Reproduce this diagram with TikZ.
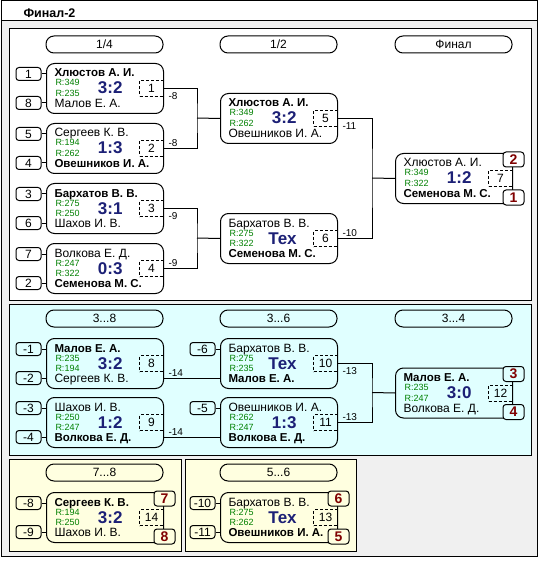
\documentclass[tikz,border=0pt]{standalone}
\usepackage{fontspec}
\setmainfont{Liberation Sans}
\usetikzlibrary{calc}
\definecolor{navyx}{RGB}{28,32,118}
\definecolor{rgreen}{RGB}{0,128,0}
\definecolor{dred}{RGB}{128,0,0}
\definecolor{pcyan}{RGB}{224,255,255}
\definecolor{pyel}{RGB}{255,255,224}
\definecolor{bggray}{RGB}{240,240,240}
\newcommand\bnm{\fontsize{11.5}{12}\selectfont\bfseries}
\tikzset{
 mbox/.style={draw, rounded corners=8pt, minimum width=117pt, minimum height=50pt, inner sep=0pt},
 nm/.style={inner sep=0pt, anchor=base west, font=\fontsize{12}{12}\selectfont},
 rt/.style={inner sep=0pt, anchor=base west, text=rgreen, font=\fontsize{9}{9}\selectfont},
 sc/.style={inner sep=0pt, anchor=base east, text=navyx, font=\fontsize{17}{17}\selectfont\bfseries},
 dbox/.style={draw, dash pattern=on 3pt off 2pt, minimum width=24pt, minimum height=16pt, inner sep=0pt, font=\fontsize{12}{12}\selectfont},
 seedbox/.style={draw, rounded corners=3pt, minimum width=25pt, minimum height=13pt, inner sep=0pt, font=\fontsize{12}{12}\selectfont},
 placebox/.style={draw, rounded corners=3pt, minimum width=21pt, minimum height=15pt, inner sep=0pt, text=dred, font=\fontsize{14}{14}\selectfont\bfseries},
 pill/.style={draw, rounded corners=8pt, minimum width=117pt, minimum height=17pt, inner sep=0pt, font=\fontsize{12}{12}\selectfont},
 lbl/.style={inner sep=0pt, anchor=west, font=\fontsize{10}{10}\selectfont},
 panel/.style={draw=black},
}
% match box: name, position, top name, R1, R2, score, bottom name, number
\newcommand\mtch[8]{%
  \node[mbox, anchor=north west] (#1) at (#2) {};
  \node[nm] (#1a) at ($(#1.north west)+(8,14)$) {#3};
  \node[rt] (#1r) at ($(#1.north west)+(9,23)$) {R:#4};
  \node[rt] (#1s) at ($(#1.north west)+(9,33.5)$) {R:#5};
  \node[sc] (#1c) at ($(#1.north west)+(77,31)$) {#6};
  \node[nm] (#1b) at ($(#1.north west)+(8,44.5)$) {#7};
  \node[dbox, anchor=east] (#1n) at (#1.east) {#8};
}
\newcommand\seedup[3]{\node[seedbox] (#1) at ($(#2.west)+(-17.5,-14.5)$) {#3};
  \draw (#1.east) -- (#1.east -| #2.west);}
\newcommand\seeddn[3]{\node[seedbox] (#1) at ($(#2.west)+(-17.5,14.5)$) {#3};
  \draw (#1.east) -- (#1.east -| #2.west);}
\newcommand\placeup[4]{\node[placebox, fill=#4] (#1) at ($(#2.north east)+(0.5,6.5)$) {#3};}
\newcommand\placedn[4]{\node[placebox, fill=#4] (#1) at ($(#2.south east)+(0.5,-6.5)$) {#3};}
\begin{document}
\begin{tikzpicture}[x=1pt, y=-1pt, line width=1pt]
\useasboundingbox (0,0) rectangle (543,561);
% frame
\draw[fill=bggray] (1,1) rectangle (537,556);
\draw[fill=white] (1,1) rectangle (537,21);
\node[anchor=base west, inner sep=0pt, font=\fontsize{12.5}{13}\selectfont\bfseries] (title) at (23,18) {Финал-2};
% panels
\draw[panel, fill=white] (9,29) rectangle (531,300);
\draw[panel, fill=pcyan] (9,304) rectangle (531,455);
\draw[panel, fill=pyel] (9,459) rectangle (181,551);
\draw[panel, fill=pyel] (185,459) rectangle (356,551);

% ===== panel 1 =====
\node[pill] (h1) at (104.5,44.5) {1/4};
\node[pill] (h2) at (278.5,44.5) {1/2};
\node[pill] (h3) at (453.5,44.5) {Финал};

\mtch{m1}{46,63}{\bnm Хлюстов А. И.}{349}{235}{3:2}{Малов Е. А.}{1}
\mtch{m2}{46,123}{Сергеев К. В.}{194}{262}{1:3}{\bnm Овешников И. А.}{2}
\mtch{m3}{46,183}{\bnm Бархатов В. В.}{275}{250}{3:1}{Шахов И. В.}{3}
\mtch{m4}{46,243}{Волкова Е. Д.}{247}{322}{0:3}{\bnm Семенова М. С.}{4}
\mtch{m5}{220,93}{\bnm Хлюстов А. И.}{349}{262}{3:2}{Овешников И. А.}{5}
\mtch{m6}{220,213}{Бархатов В. В.}{275}{322}{Тех}{\bnm Семенова М. С.}{6}
\mtch{m7}{395,153}{Хлюстов А. И.}{349}{322}{1:2}{\bnm Семенова М. С.}{7}

\seedup{s1}{m1}{1}\seeddn{s8}{m1}{8}
\seedup{s5}{m2}{5}\seeddn{s4}{m2}{4}
\seedup{s3}{m3}{3}\seeddn{s6}{m3}{6}
\seedup{s7}{m4}{7}\seeddn{s2}{m4}{2}

\coordinate (j1) at (197,118);
\coordinate (j2) at (197,238);
\coordinate (j3) at (372,178);
\draw (m1.east) -| (j1) |- (m2.east);
\draw (j1) -- (m5.west);
\draw (m3.east) -| (j2) |- (m4.east);
\draw (j2) -- (m6.west);
\draw (m5.east) -| (j3) |- (m6.east);
\draw (j3) -- (m7.west);

\node[lbl] (l1) at ($(m1.east)+(4,8)$) {-8};
\node[lbl] (l2) at ($(m2.east)+(4,-5)$) {-8};
\node[lbl] (l3) at ($(m3.east)+(4,8)$) {-9};
\node[lbl] (l4) at ($(m4.east)+(4,-5)$) {-9};
\node[lbl] (l5) at ($(m5.east)+(4,8)$) {-11};
\node[lbl] (l6) at ($(m6.east)+(4,-5)$) {-10};

\placeup{p2}{m7}{2}{white}
\placedn{p1}{m7}{1}{white}

% ===== panel 2 =====
\node[pill] (h4) at (104.5,318.5) {3...8};
\node[pill] (h5) at (278.5,318.5) {3...6};
\node[pill] (h6) at (453.5,318.5) {3...4};

\mtch{m8}{46,338}{\bnm Малов Е. А.}{235}{194}{3:2}{Сергеев К. В.}{8}
\mtch{m9}{46,397}{Шахов И. В.}{250}{247}{1:2}{\bnm Волкова Е. Д.}{9}
\mtch{m10}{220,338}{Бархатов В. В.}{275}{235}{Тех}{\bnm Малов Е. А.}{10}
\mtch{m11}{220,397}{Овешников И. А.}{262}{247}{1:3}{\bnm Волкова Е. Д.}{11}
\mtch{m12}{395,367.5}{\bnm Малов Е. А.}{235}{247}{3:0}{Волкова Е. Д.}{12}

\seedup{sm1}{m8}{-1}\seeddn{sm2}{m8}{-2}
\seedup{sm3}{m9}{-3}\seeddn{sm4}{m9}{-4}
\seedup{sm6}{m10}{-6}
\seedup{sm5}{m11}{-5}

\draw ($(m8.east)+(0,14.5)$) coordinate (o8) -- (o8 -| m10.west);
\draw ($(m9.east)+(0,14.5)$) coordinate (o9) -- (o9 -| m11.west);
\node[lbl] (l8) at ($(o8)+(4,-5)$) {-14};
\node[lbl] (l9) at ($(o9)+(4,-5)$) {-14};

\coordinate (j4) at (372,392.5);
\draw (m10.east) -| (j4) |- (m11.east);
\draw (j4) -- (m12.west);
\node[lbl] (l10) at ($(m10.east)+(4,8)$) {-13};
\node[lbl] (l11) at ($(m11.east)+(4,-5)$) {-13};

\placeup{p3}{m12}{3}{pcyan}
\placedn{p4}{m12}{4}{pcyan}

% ===== panel 3 =====
\node[pill] (h7) at (104.5,472.5) {7...8};
\mtch{m14}{46,492}{\bnm Сергеев К. В.}{194}{250}{3:2}{Шахов И. В.}{14}
\seedup{sm8}{m14}{-8}\seeddn{sm9}{m14}{-9}
\placeup{p7}{m14}{7}{pyel}
\placedn{p8}{m14}{8}{pyel}

% ===== panel 4 =====
\node[pill] (h8) at (278.5,472.5) {5...6};
\mtch{m13}{220,492}{Бархатов В. В.}{275}{262}{Тех}{\bnm Овешников И. А.}{13}
\seedup{sm10}{m13}{-10}\seeddn{sm11}{m13}{-11}
\placeup{p6}{m13}{6}{pyel}
\placedn{p5}{m13}{5}{pyel}
\end{tikzpicture}
\end{document}
